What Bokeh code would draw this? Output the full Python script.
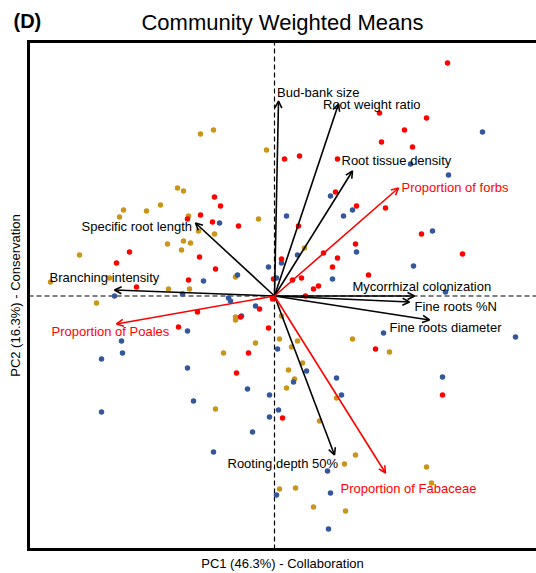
import math
from bokeh.plotting import figure
from bokeh.models import ColumnDataSource, Arrow, OpenHead, Range1d
from bokeh.core.properties import value
from bokeh.embed import file_html
from bokeh.resources import INLINE

# ---------------- data (PC scores) ----------------
red_x = [1.73, 1.05, 1.52, 1.30, 1.07, 1.38, 0.10, 0.25, 0.63, 0.61, 0.82, 1.11, 0.24,
         1.47, 0.81, 0.49, 1.88, 0.07, 0.63, 0.58, 0.94, 0.27, 0.18, -0.01, 0.44, 0.39,
         0.31, -0.02, -0.60, -0.54, -0.74, -0.87, -0.62, -0.36, -0.75, -1.45, -1.58,
         -0.59, -0.86, -1.38, -0.77, -0.15, -0.34, -0.06, -0.96, -0.26, -0.38, 0.08,
         1.01, 1.68]
red_y = [2.33, 1.83, 1.78, 1.66, 1.54, 1.49, 1.37, 1.40, 1.37, 1.04, 0.90, 0.88, 0.70,
         0.62, 0.52, 0.43, 0.42, 0.37, 0.38, 0.29, 0.21, 0.18, 0.16, 0.17, 0.10, 0.07,
         0.00, -0.03, 0.99, 0.90, 0.81, 0.77, 0.74, 0.70, 0.39, 0.44, 0.33,
         0.27, 0.16, 0.09, -0.16, -0.13, -0.21, -0.32, -0.31, -0.57, -0.77, -1.22,
         -0.53, -0.99]

gold_x = [-0.74, -0.61, -0.08, -0.97, -0.91, -1.14, -1.51, -1.28, -1.55, -0.86, -0.16,
          -0.76, -0.60, -1.07, -0.91, -0.84, -0.93, -1.95, -0.39, -1.65, -2.24, -1.06,
          -0.85, -1.78, 0.30, -0.39, -0.39, 0.07, -0.51, -0.19, -0.59, 0.05, 0.23, 0.17,
          0.78, 1.15, 0.28, 0.14, 0.20, 0.12, 0.62, 0.45, 0.81, 0.70, 1.52, 1.57, 0.05,
          0.21, 0.39, 0.71]
gold_y = [1.62, 1.66, 1.46, 1.08, 1.05, 0.91, 0.86, 0.85, 0.79, 0.80, 0.77,
          0.65, 0.62, 0.52, 0.55, 0.53, 0.46, 0.41, 0.19, 0.18, 0.14, 0.07,
          0.07, -0.07, 0.48, -0.21, -0.24, -0.20, -0.57, -0.47, -1.13, -0.43, -0.45, -0.51,
          -0.43, -0.56, -0.67, -0.74, -0.83, -0.92, -1.02, -1.25, -1.59, -1.68, -1.71, -1.87,
          -1.93, -1.92, -2.11, -2.15]

blue_x = [2.08, 1.36, 1.74, 0.56, 0.78, 0.69, 0.12, 1.58, 0.82, 0.23, 0.07, -0.06, 1.39,
          0.58, 0.02, 1.71, -0.55, -0.71, -0.37, -1.60, -0.92, -0.46, -0.44, -0.19, -0.33,
          -0.87, -1.53, -1.52, -1.73, -0.87, -0.27, -0.05, -0.81, -1.73, -0.05, -0.22,
          -0.61, 0.03, 1.09, 2.41, 0.32, 0.19, 0.62, 1.68, 0.67, 0.04, 0.53, 0.02, 0.56,
          0.54]
blue_y = [1.64, 1.32, 1.21, 1.00, 0.86, 0.80, 0.80, 0.65, 0.44, 0.41, 0.33, 0.29, 0.30,
          0.17, 0.18, 0.04, 0.73, 0.15, 0.21, 0.00, 0.02, -0.02, -0.05, -0.10, -0.20,
          -0.35, -0.45, -0.57, -0.63, -0.72, -0.93, -0.99, -1.05, -1.16, -1.21, -1.36,
          -1.56, -0.53, -0.37, -0.41, -0.75, -0.86, -0.82, -0.81, -0.99, -1.14, -1.75,
          -1.99, -1.97, -2.33]

# loadings (arrow tips)
load_names = ["Bud-bank size", "Root weight ratio", "Root tissue density",
              "Specific root length", "Branching intensity", "Mycorrhizal colonization",
              "Fine roots %N", "Fine roots diameter", "Rooting depth 50%"]
load_x = [0.04, 0.64, 0.78, -0.79, -1.60, 1.40, 1.35, 1.55, 0.60]
load_y = [1.95, 1.92, 1.25, 0.73, 0.06, 0.00, -0.06, -0.24, -1.59]

prop_names = ["Proportion of forbs", "Proportion of Poales", "Proportion of Fabaceae"]
prop_x = [1.24, -1.58, 1.11]
prop_y = [1.08, -0.28, -1.77]

title_text = "Community Weighted Means"
panel_tag = "(D)"
x_label = "PC1 (46.3%) - Collaboration"
y_label = "PC2 (16.3%) - Conservation"

# ---------------- layout / styling ----------------
# label offsets from arrow tips (screen px, left edge of text, y down)
load_dx = [-1.5, -15.5, -11, -114, -65, -62, 5, -40, -107]
load_dy = [-9, 0, -11, 3, -12.6, -9.5, 4, 7.7, 8.4]
prop_dx = [3, -65, -45]
prop_dy = [-1, 7.7, 15]

FONT = "Liberation Sans"
RED = "#FF0000"
GOLD = "#C9961A"
BLUE = "#34579B"

# whole canvas in score units; the boxed panel inside it
CX0, CX1, CY0, CY1 = -2.74, 2.62, -2.775, 2.955
BX0, BY0, BY1 = -2.46, -2.535, 2.545

p = figure(width=536, height=573, output_backend="svg", toolbar_location=None,
           x_range=Range1d(CX0, CX1), y_range=Range1d(CY0, CY1),
           min_border=0, x_axis_location=None, y_axis_location=None)
p.xgrid.visible = False
p.ygrid.visible = False
p.outline_line_color = None

# panel box (right edge runs off the page)
p.line([CX1 + 0.05, BX0, BX0, CX1 + 0.05], [BY1, BY1, BY0, BY0],
       line_color="black", line_width=3, line_join="miter")

# zero lines
p.segment(x0=[BX0, 0], y0=[0, BY0], x1=[CX1, 0], y1=[0, BY1],
          line_color="black", line_dash="5 3", line_width=1.2)

# points
p.scatter(gold_x, gold_y, size=5.5, color=GOLD, line_color=None)
p.scatter(blue_x, blue_y, size=5.5, color=BLUE, line_color=None)
p.scatter(red_x, red_y, size=5.5, color=RED, line_color=None)

# arrows
lsrc = ColumnDataSource(dict(x0=[0] * len(load_x), y0=[0] * len(load_y),
                             x1=load_x, y1=load_y, name=load_names,
                             dx=load_dx, dy=load_dy))
psrc = ColumnDataSource(dict(x0=[0] * len(prop_x), y0=[0] * len(prop_y),
                             x1=prop_x, y1=prop_y, name=prop_names,
                             dx=prop_dx, dy=prop_dy))
p.add_layout(Arrow(source=lsrc, x_start="x0", y_start="y0", x_end="x1", y_end="y1",
                   line_color="black", line_width=1.6,
                   end=OpenHead(size=7, line_color="black", line_width=1.6)))
p.add_layout(Arrow(source=psrc, x_start="x0", y_start="y0", x_end="x1", y_end="y1",
                   line_color=RED, line_width=1.6,
                   end=OpenHead(size=7, line_color=RED, line_width=1.6)))

p.text(x="x1", y="y1", text="name", source=lsrc, x_offset="dx", y_offset="dy",
       text_font=value(FONT), text_font_size="13px", text_color="black",
       text_align="left", text_baseline="middle")
p.text(x="x1", y="y1", text="name", source=psrc, x_offset="dx", y_offset="dy",
       text_font=value(FONT), text_font_size="13px", text_color=RED,
       text_align="left", text_baseline="middle")

# title, panel tag and axis titles
mid_x = (BX0 + CX1) / 2
p.text(x=[mid_x], y=[2.735], text=[title_text], text_font=value(FONT),
       text_font_size="22px", text_color="black", text_align="center",
       text_baseline="middle")
p.text(x=[-2.61], y=[2.755], text=[panel_tag], text_font=value(FONT),
       text_font_size="20px", text_font_style="bold", text_color="black",
       text_align="left", text_baseline="middle")
p.text(x=[mid_x], y=[-2.672], text=[x_label], text_font=value(FONT),
       text_font_size="13px", text_color="black", text_align="center",
       text_baseline="middle")
p.text(x=[-2.59], y=[(BY0 + BY1) / 2], text=[y_label], angle=math.pi / 2,
       text_font=value(FONT), text_font_size="13px", text_color="black",
       text_align="center", text_baseline="middle")

open("out.html", "w").write(file_html(p, INLINE))
